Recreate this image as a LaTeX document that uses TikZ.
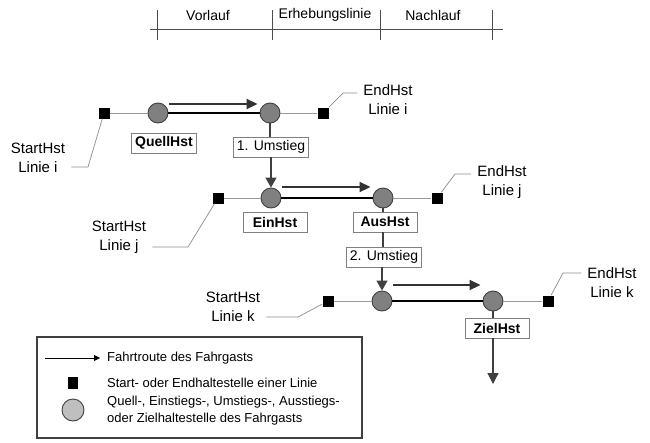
\documentclass[tikz,border=0pt]{standalone}
\usepackage{fontspec}
\setmainfont{Liberation Sans}
\usetikzlibrary{positioning,arrows.meta}

\tikzset{
    hst/.style={circle, draw=black!75, fill=black!50, line width=0.9pt, minimum size=20pt, inner sep=0pt},
    endpunkt/.style={rectangle, fill=black, minimum size=11pt, inner sep=0pt},
    hstbox/.style={draw=black!50, line width=0.7pt, minimum width=64pt, minimum height=20pt, inner xsep=3.5pt, inner ysep=1pt, font=\fontsize{14}{16}\selectfont},
    hstname/.style={hstbox, font=\fontsize{14}{16}\selectfont\bfseries},
    hstlabel/.style={align=center, inner xsep=6pt, inner ysep=1pt, font=\fontsize{15}{19}\selectfont},
    linie/.style={black!40, line width=1pt},
    fahrt/.style={black, line width=2pt},
    route/.style={black!80, line width=1.8pt, -{Triangle[length=11pt,width=10pt]}},
    umstieg/.style={black!75, line width=1.2pt},
    leader/.style={black!45, line width=0.7pt},
    legtext/.style={anchor=west, align=left, inner sep=0pt, font=\fontsize{13}{17}\selectfont}
}

\begin{document}
\begin{tikzpicture}[x=1pt, y=1pt]
    \useasboundingbox (0,0) rectangle (650,-442);

    %Scale
    \draw[black!70, line width=0.8pt] (150,-29) -- (503,-29);
    \foreach \x in {157,272,380,492}
        \draw[black!70, line width=0.8pt] (\x,-10) -- (\x,-40);
    \node[font=\fontsize{14}{16}\selectfont] at (208,-15) (vorlauf) {Vorlauf};
    \node[font=\fontsize{14}{16}\selectfont] at (325,-15) (erhebung) {Erhebungslinie};
    \node[font=\fontsize{14}{16}\selectfont] at (433,-15) (nachlauf) {Nachlauf};

    %Nodes
    \node[endpunkt] at (104,-113) (si)    {};
    \node[hst]      at (158,-113) (quell) {};
    \node[hst]      at (270,-113) (um1)   {};
    \node[endpunkt] at (323,-113) (ei)    {};

    \node[endpunkt] at (218,-198) (sj)    {};
    \node[hst]      at (271,-198) (ein)   {};
    \node[hst]      at (383,-198) (aus)   {};
    \node[endpunkt] at (437,-198) (ej)    {};

    \node[endpunkt] at (328,-301) (sk)    {};
    \node[hst]      at (382,-301) (um2)   {};
    \node[hst]      at (493,-301) (ziel)  {};
    \node[endpunkt] at (548,-301) (ek)    {};

    %Boxes
    \node[hstname] at (164,-143) (quellbox) {QuellHst};
    \node[hstbox]  at (271,-147) (umbox1)   {1. Umstieg};
    \node[hstname] at (275,-222) (einbox)   {EinHst};
    \node[hstname] at (385,-222) (ausbox)   {AusHst};
    \node[hstbox]  at (384,-257) (umbox2)   {2. Umstieg};
    \node[hstname] at (497,-328) (zielbox)  {ZielHst};

    %Labels
    \node[hstlabel] at (38,-158)  (lsi) {StartHst\\Linie i};
    \node[hstlabel] at (388,-100) (lei) {EndHst\\Linie i};
    \node[hstlabel] at (119,-237) (lsj) {StartHst\\Linie j};
    \node[hstlabel] at (502,-182) (lej) {EndHst\\Linie j};
    \node[hstlabel] at (233,-307) (lsk) {StartHst\\Linie k};
    \node[hstlabel] at (612,-283) (lek) {EndHst\\Linie k};

    \coordinate (ksi) at (88,-167);
    \coordinate (kei) at (343,-93);
    \coordinate (ksj) at (188,-247);
    \coordinate (kej) at (455,-174);
    \coordinate (ksk) at (298,-317);
    \coordinate (kek) at (563,-273);
    \coordinate (ausgang) at (493,-384);

    %Lines
    \draw[linie] (si) -- (quell);
    \draw[fahrt] (quell) -- (um1);
    \draw[linie] (um1) -- (ei);
    \draw[linie] (sj) -- (ein);
    \draw[fahrt] (ein) -- (aus);
    \draw[linie] (aus) -- (ej);
    \draw[linie] (sk) -- (um2);
    \draw[fahrt] (um2) -- (ziel);
    \draw[linie] (ziel) -- (ek);

    %Route
    \draw[route] ([xshift=1pt, yshift=9pt]quell.east) -- ([xshift=-2pt, yshift=9pt]um1.west);
    \draw[route] ([xshift=1pt, yshift=11pt]ein.east) -- ([xshift=-2pt, yshift=11pt]aus.west);
    \draw[route] ([xshift=1pt, yshift=16pt]um2.east) -- ([xshift=-2pt, yshift=16pt]ziel.west);

    %Umstiege
    \draw[umstieg] (um1) -- (um1 |- umbox1.north);
    \draw[umstieg, -{Triangle[length=10pt,width=11pt]}] (umbox1.south -| ein) -- (ein);
    \draw[umstieg] (aus) -- (aus |- ausbox.north);
    \draw[umstieg] (ausbox.south -| aus) -- (aus |- umbox2.north);
    \draw[umstieg, -{Triangle[length=10pt,width=11pt]}] (umbox2.south -| um2) -- (um2);
    \draw[umstieg] (ziel) -- (ziel |- zielbox.north);
    \draw[umstieg, -{Triangle[length=11pt,width=11pt]}] (zielbox.south -| ziel) -- (ausgang);

    %Leaders
    \draw[leader] (si) -- (ksi) -- (lsi.east |- ksi);
    \draw[leader] (ei) -- (kei) -- (lei.west |- kei);
    \draw[leader] (sj) -- (ksj) -- (lsj.east |- ksj);
    \draw[leader] (ej) -- (kej) -- (lej.west |- kej);
    \draw[leader] (sk) -- (ksk) -- (lsk.east |- ksk);
    \draw[leader] (ek) -- (kek) -- (lek.west |- kek);

    %Legend
    \node[draw=black!75, line width=1.2pt, minimum width=325pt, minimum height=101pt, inner sep=0pt] at (199.5,-387.5) (legende) {};
    \coordinate (lpfeil1) at (45,-358);
    \coordinate (lpfeil2) at (100,-358);
    \draw[black, line width=0.9pt, -{Triangle[length=6pt,width=6pt]}] (lpfeil1) -- (lpfeil2);
    \node[endpunkt, minimum width=10pt, minimum height=12pt] at (73,-383) (lend) {};
    \node[hst, fill=black!25, minimum size=22pt] at (73,-410) (lhst) {};
    \node[legtext] at (107,-358) (tpfeil) {Fahrtroute des Fahrgasts};
    \node[legtext] at (107,-383) (tend)   {Start- oder Endhaltestelle einer Linie};
    \node[legtext] at (107,-411) (thst)   {Quell-, Einstiegs-, Umstiegs-, Ausstiegs-\\oder Zielhaltestelle des Fahrgasts};
\end{tikzpicture}
\end{document}
